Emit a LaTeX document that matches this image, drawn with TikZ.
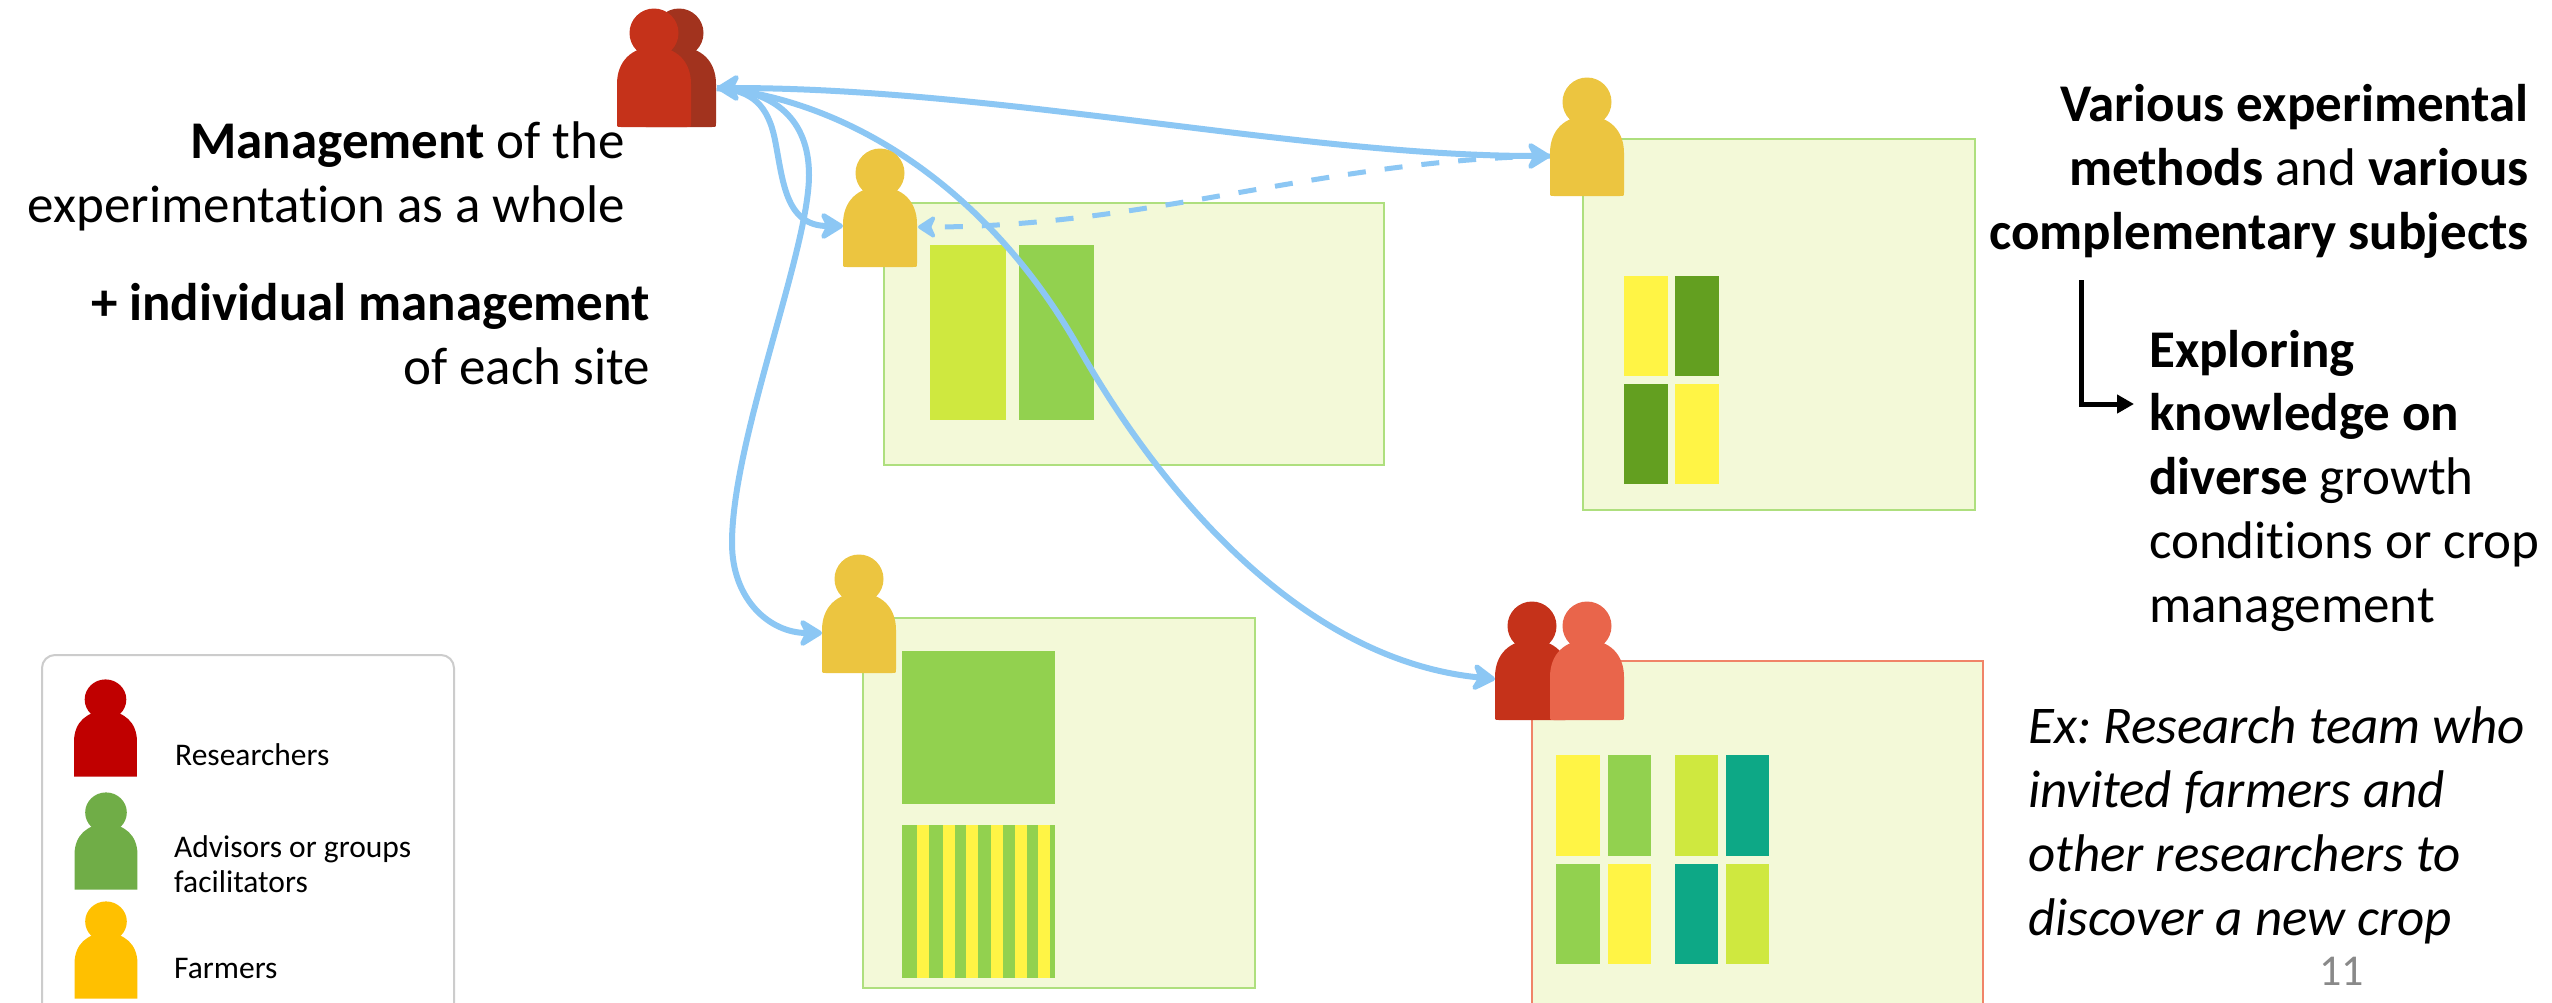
\documentclass[tikz,border=0pt]{standalone}
\usepackage{fontspec}
\setmainfont[Ligatures={NoCommon}]{Carlito}
\usetikzlibrary{arrows.meta}
\definecolor{sitefill}{HTML}{F3F9D8}
\definecolor{siteline}{HTML}{AEDF7E}
\definecolor{redline}{HTML}{F08468}
\definecolor{lime}{HTML}{CFE83F}
\definecolor{leaf}{HTML}{92D14F}
\definecolor{sun}{HTML}{FFF445}
\definecolor{deep}{HTML}{639F20}
\definecolor{teal2}{HTML}{0DA886}
\definecolor{flow}{HTML}{8CC7F4}
\definecolor{farmer}{HTML}{ECC540}
\definecolor{resfront}{HTML}{C5321A}
\definecolor{resback}{HTML}{A2331E}
\definecolor{respeer}{HTML}{E9654B}
\definecolor{legred}{HTML}{C00000}
\definecolor{leggreen}{HTML}{70AD47}
\definecolor{legyellow}{HTML}{FFC000}
\definecolor{pagenum}{HTML}{898989}
\newcommand{\personshape}[6]{%
  \begin{scope}[shift={(#1,#2)},xscale=#3,yscale=#4]
    \fill[#5] (0,25) circle[radius=24.5];
    \fill[#5] (-37,119-#6) -- (-37,76) .. controls (-37,53) and (-22,39) .. (0,39)
      .. controls (22,39) and (37,53) .. (37,76) -- (37,119-#6)
      .. controls (37,119) and (37,119) .. (37-#6,119) -- (-37+#6,119)
      .. controls (-37,119) and (-37,119) .. cycle;
  \end{scope}}
\tikzset{
  site/.style={draw=siteline,fill=sitefill,line width=2pt},
  siter/.style={draw=redline,fill=sitefill,line width=2pt},
  flowline/.style={draw=flow,line width=6pt,line join=round,
    -{Stealth[length=27pt,width=33pt,inset=8pt,round]}},
  flowboth/.style={draw=flow,line width=6pt,line join=round,
    {Stealth[length=27pt,width=33pt,inset=8pt,round]}-{Stealth[length=27pt,width=33pt,inset=8pt,round]}},
  flowdash/.style={draw=flow,line width=5pt,dash pattern=on 18pt off 19pt,
    -{Stealth[length=21pt,width=27pt,inset=6pt,round]}},
  main/.style={font=\fontsize{53}{63.7}\selectfont\frenchspacing,inner sep=0pt},
  legend/.style={font=\fontsize{31.5}{35}\selectfont,inner sep=0pt,align=left},
}
\begin{document}
\begin{tikzpicture}[x=1pt,y=-1pt]
\clip (0,0) rectangle (2552,1002);
\fill[white] (0,0) rectangle (2552,1002);
% sites
\draw[site] (884,203) rectangle (1384,465);
\draw[site] (1583,139) rectangle (1975,510);
\draw[site] (863,618) rectangle (1255,988);
\draw[siter] (1532,661) rectangle (1983,1015);
% plots site 1
\fill[lime] (930,245) rectangle (1006,420);
\fill[leaf] (1019,245) rectangle (1094,420);
% plots site 2
\fill[sun] (1624,276) rectangle (1668,376);
\fill[deep] (1675,276) rectangle (1719,376);
\fill[deep] (1624,384) rectangle (1668,484);
\fill[sun] (1675,384) rectangle (1719,484);
% plots site 3
\fill[leaf] (902,651) rectangle (1055,804);
\fill[leaf] (902,825) rectangle (1055,978);
\foreach \a/\b in {917/929,943/955,966/978,991/1003,1015/1027,1038/1050}
  \fill[sun] (\a,825) rectangle (\b,978);
% plots site 4
\fill[sun] (1556,755) rectangle (1600,856);
\fill[leaf] (1607.5,755) rectangle (1651,856);
\fill[lime] (1675,755) rectangle (1718,856);
\fill[teal2] (1726,755) rectangle (1769,856);
\fill[leaf] (1556,864) rectangle (1600,964);
\fill[sun] (1607.5,864) rectangle (1651,964);
\fill[teal2] (1675,864) rectangle (1718,964);
\fill[lime] (1726,864) rectangle (1769,964);
% connection points
\coordinate (resR) at (717,88);
\coordinate (farmA) at (843,226);
\coordinate (farmAr) at (918,227);
\coordinate (farmB) at (1550,156);
\coordinate (farmC) at (822,633);
\coordinate (pair) at (1495,679);
\coordinate (ela) at (2081,280);
\coordinate (elb) at (2134,404);
% connectors
\draw[flowboth] (resR) .. controls (1000,88) and (1300,156) .. (farmB);
\draw[flowline] (resR) .. controls (752,90) and (768,105) .. (775,140)
  .. controls (783,180) and (785,226) .. (farmA);
\draw[flowline] (resR) .. controls (775,90) and (809,120) .. (809,175)
  .. controls (809,250) and (732,440) .. (732,543)
  .. controls (732,600) and (770,633) .. (farmC);
\draw[flowline] (resR) .. controls (850,100) and (990,190) .. (1080,350)
  .. controls (1160,490) and (1300,660) .. (pair);
\draw[flowdash] (farmB) .. controls (1320,160) and (1150,227) .. (farmAr);
\draw[line width=5pt,-{Triangle[length=17pt,width=18pt]}] (ela) |- (elb);
% people
\personshape{679}{8}{1}{1}{resback}{4}
\personshape{654}{8}{1}{1}{resfront}{4}
\personshape{880}{148}{1}{1}{farmer}{4}
\personshape{1587}{77}{1}{1}{farmer}{4}
\personshape{859}{554}{1}{1}{farmer}{4}
\personshape{1532}{601}{1}{1}{resfront}{4}
\personshape{1587}{601}{1}{1}{respeer}{4}
% legend
\draw[draw=black!20,line width=2pt,rounded corners=13pt] (42,655) rectangle (454,1030);
\personshape{105.5}{679}{0.85}{0.82}{legred}{0.1}
\personshape{106}{792}{0.85}{0.82}{leggreen}{0.1}
\personshape{106}{901}{0.85}{0.82}{legyellow}{0.1}
\node[legend,anchor=base west] (lr) at (175,765) {Researchers};
\node[legend,anchor=base west] (la) at (174,892) {Advisors or groups\\facilitators};
\node[legend,anchor=base west] (lf) at (174,978) {Farmers};
% texts
\node[main,anchor=base east,align=right] (tm) at (625,222) {\textbf{Management} of the\\experimentation as a whole};
\node[main,anchor=base east,align=right] (ti) at (650,384) {\textbf{+ individual management}\\of each site};
\node[main,anchor=base east,align=right] (tv) at (2529,249) {\textbf{Various experimental}\\\textbf{methods} and \textbf{various}\\\textbf{complementary subjects}};
\node[main,anchor=base west,align=left] (te) at (2149,622) {\textbf{Exploring}\\\textbf{knowledge on}\\\textbf{diverse} growth\\conditions or crop\\management};
\node[main,anchor=base west,align=left] (tx) at (2028,935) {\itshape Ex: Research team who\\\itshape invited farmers and\\\itshape other researchers to\\\itshape discover a new crop};
\node[inner sep=0pt,anchor=base east,text=pagenum,font=\fontsize{44}{50}\selectfont] (num) at (2364,985) {11};
\end{tikzpicture}
\end{document}
